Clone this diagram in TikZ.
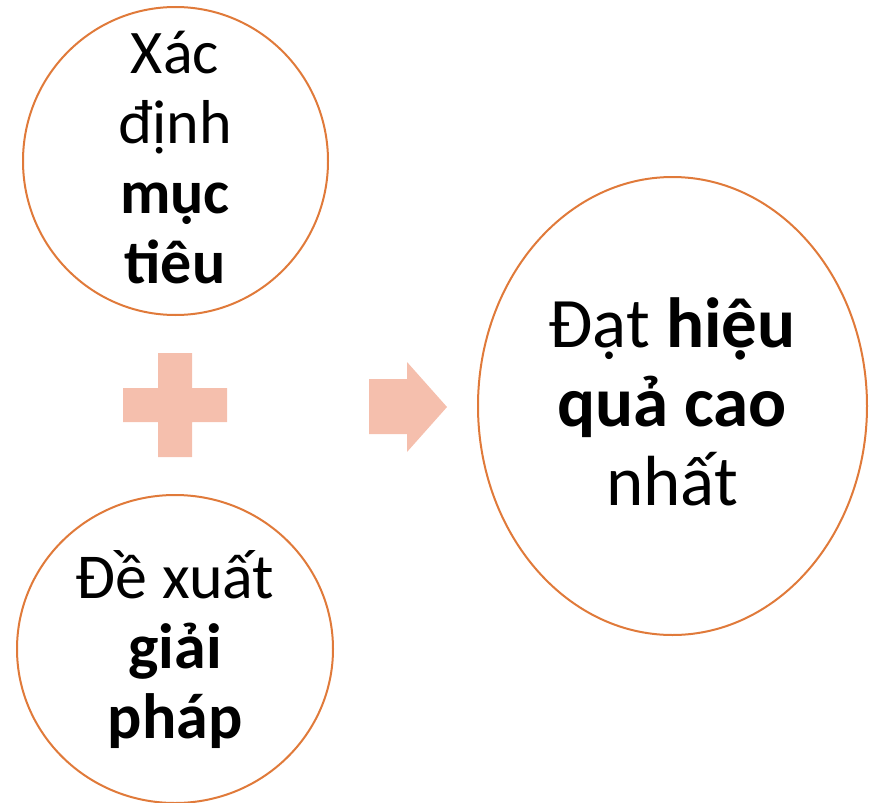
\documentclass[tikz,border=0pt]{standalone}
\usepackage{fontspec}
\setmainfont{Carlito}
\usetikzlibrary{shapes.geometric}
\definecolor{ringc}{HTML}{E07A3A}
\definecolor{fillc}{HTML}{F5BFAD}
\tikzset{
  ring/.style={ellipse, draw=ringc, line width=2pt, fill=white, inner sep=0pt},
  txtA/.style={align=center, font=\fontsize{62}{70}\selectfont, inner sep=0pt},
  txtC/.style={align=center, font=\fontsize{64}{70}\selectfont, inner sep=0pt},
  txtB/.style={align=center, font=\fontsize{71}{79}\selectfont, inner sep=0pt},
  blob/.style={fill=fillc, draw=none}
}
\begin{document}
\begin{tikzpicture}[x=1pt,y=-1pt]
\useasboundingbox (0,0) rectangle (876,803);
\node[ring, minimum width=305pt, minimum height=308pt] (c1) at (175.5,161) {};
\node[ring, minimum width=316pt, minimum height=308pt] (c2) at (175,649) {};
\node[ring, minimum width=389pt, minimum height=458pt] (c3) at (672.5,406) {};
% plus sign
\fill[blob] (158,353) -- (192,353) -- (192,388) -- (227,388) -- (227,422) -- (192,422)
  -- (192,457) -- (158,457) -- (158,422) -- (123,422) -- (123,388) -- (158,388) -- cycle;
% block arrow
\fill[blob] (369,379) -- (407,379) -- (407,362) -- (447,407) -- (407,452) -- (407,434)
  -- (369,434) -- cycle;
\node[txtA, anchor=base] (t1) at (175,283) {Xác\\định\\\textbf{mục}\\\textbf{tiêu}};
\node[txtC, anchor=base] (t2) at (175,738) {Đề xuất\\\textbf{giải}\\\textbf{pháp}};
\node[txtB, anchor=base] (t3) at (672,505) {Đạt \textbf{hiệu}\\\textbf{quả cao}\\nhất};
\end{tikzpicture}
\end{document}
